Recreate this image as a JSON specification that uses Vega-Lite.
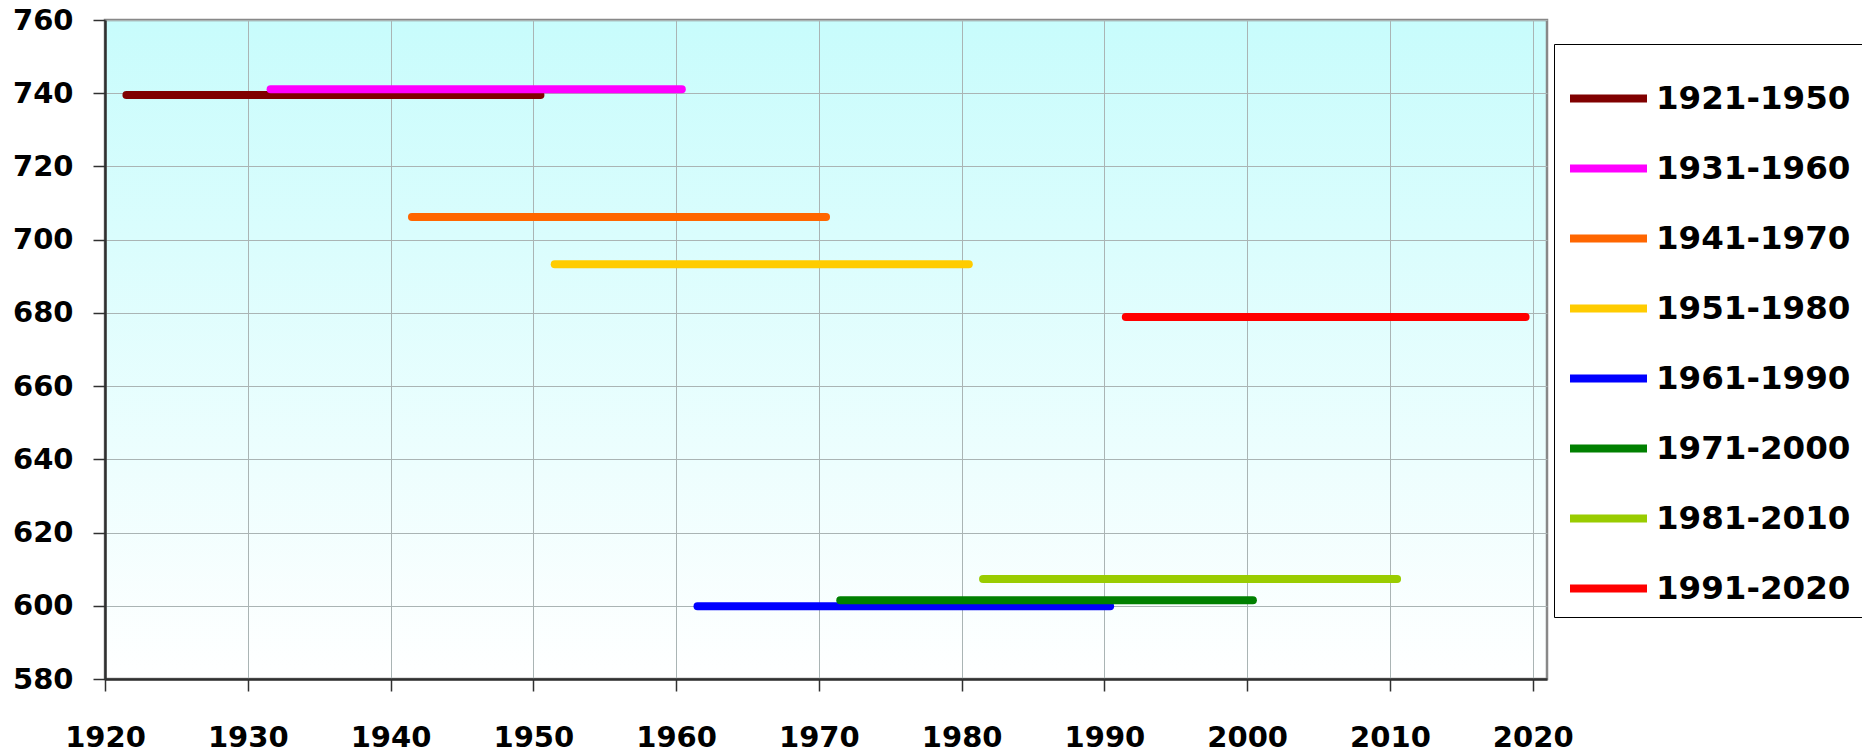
{
  "$schema": "https://vega.github.io/schema/vega-lite/v6.json",
  "width": 1442,
  "height": 659,
  "autosize": {"type": "none"},
  "padding": {"left": 105, "top": 20, "right": 315, "bottom": 73},
  "background": "white",
  "view": {
    "fill": {"gradient": "linear", "x1": 0, "y1": 0, "x2": 0, "y2": 1, "stops": [{"offset": 0, "color": "#C8FCFC"}, {"offset": 1, "color": "#FFFFFF"}]},
    "stroke": "#888888",
    "strokeWidth": 2.5
  },
  "data": {
    "values": [
      {"period": "1921-1950", "start": 1921.5, "end": 1950.5, "value": 739.5},
      {"period": "1931-1960", "start": 1931.6, "end": 1960.4, "value": 741.1},
      {"period": "1941-1970", "start": 1941.5, "end": 1970.5, "value": 706.2},
      {"period": "1951-1980", "start": 1951.5, "end": 1980.5, "value": 693.3},
      {"period": "1961-1990", "start": 1961.5, "end": 1990.4, "value": 599.9},
      {"period": "1971-2000", "start": 1971.5, "end": 2000.4, "value": 601.5},
      {"period": "1981-2010", "start": 1981.5, "end": 2010.5, "value": 607.3},
      {"period": "1991-2020", "start": 1991.5, "end": 2019.5, "value": 678.9}
    ]
  },
  "mark": {"type": "rule", "strokeWidth": 8, "strokeCap": "round"},
  "encoding": {
    "x": {
      "field": "start", "type": "quantitative",
      "scale": {"domain": [1920, 2021], "nice": false, "zero": false},
      "axis": {
        "title": null, "values": [1920, 1930, 1940, 1950, 1960, 1970, 1980, 1990, 2000, 2010, 2020],
        "format": "d", "grid": true, "gridColor": "#AAB4B4", "gridWidth": 1, "gridOpacity": 1,
        "domainColor": "#303030", "domainWidth": 2.5,
        "tickColor": "#303030", "tickSize": 12, "tickWidth": 1.5,
        "labelFont": "DejaVu Sans", "labelFontWeight": "bold", "labelFontSize": 29, "labelColor": "#000000",
        "labelPadding": 32, "labelFlush": false, "labelOverlap": false
      }
    },
    "x2": {"field": "end"},
    "y": {
      "field": "value", "type": "quantitative",
      "scale": {"domain": [580, 760], "nice": false, "zero": false},
      "axis": {
        "title": null, "values": [580, 600, 620, 640, 660, 680, 700, 720, 740, 760],
        "grid": true, "gridColor": "#AAB4B4", "gridWidth": 1, "gridOpacity": 1,
        "domainColor": "#303030", "domainWidth": 2.5,
        "tickColor": "#303030", "tickSize": 12, "tickWidth": 1.5,
        "labelFont": "DejaVu Sans", "labelFontWeight": "bold", "labelFontSize": 29, "labelColor": "#000000",
        "labelPadding": 20, "labelFlush": false, "labelOverlap": false
      }
    },
    "color": {
      "field": "period", "type": "nominal",
      "scale": {
        "domain": ["1921-1950", "1931-1960", "1941-1970", "1951-1980", "1961-1990", "1971-2000", "1981-2010", "1991-2020"],
        "range": ["#800000", "#FF00FF", "#FF6600", "#FFCC00", "#0000FF", "#008000", "#99CC00", "#FF0000"]
      },
      "legend": {
        "title": null, "orient": "none", "legendX": 1449, "legendY": 24,
        "strokeColor": "#000000", "fillColor": "#FFFFFF", "padding": 12,
        "symbolType": "stroke", "symbolSize": 5929, "symbolStrokeWidth": 8,
        "labelFont": "DejaVu Sans", "labelFontWeight": "bold", "labelFontSize": 32.5, "labelColor": "#000000",
        "labelOffset": 5, "rowPadding": 11, "labelLimit": 400
      }
    }
  }
}
